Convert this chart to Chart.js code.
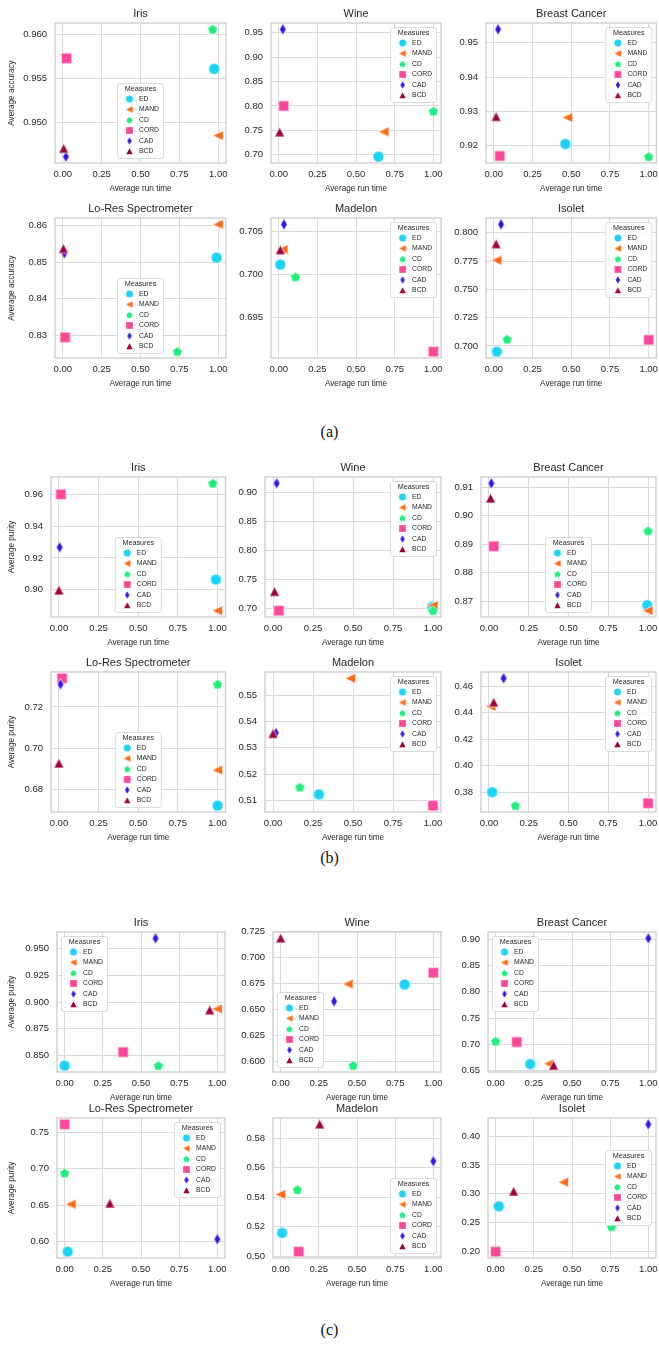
<!DOCTYPE html>
<html>
<head>
<meta charset="utf-8">
<script src="https://cdn.jsdelivr.net/npm/chart.js@4.4.1/dist/chart.umd.min.js"></script>
<style>
  body { margin: 0; background: #fff; }
  #fig { position: relative; width: 659px; height: 1356px; overflow: hidden; }
  #fig canvas { position: absolute; }
  .cap { position: absolute; left: 0; width: 659px; text-align: center; line-height: 20px;
         font-family: "Liberation Serif", "DejaVu Serif", serif; font-size: 16px; color: #111; }
</style>
</head>
<body>
<div id="fig"></div>
<script>
// ---- data ----
const measures = ["ED", "MAND", "CD", "CORD", "CAD", "BCD"];
const panelTitles = ["Iris", "Wine", "Breast Cancer", "Lo-Res Spectrometer", "Madelon", "Isolet"];
const xTicks = [0, 0.25, 0.5, 0.75, 1];

// (a) average accuracy vs average run time, order: ED MAND CD CORD CAD BCD
const aIrisX = [0.974, 1.0, 0.964, 0.024, 0.02, 0.006];
const aIrisY = [0.9561, 0.9485, 0.9606, 0.9573, 0.9461, 0.9470];
const aWineX = [0.645, 0.68, 1.0, 0.032, 0.026, 0.006];
const aWineY = [0.696, 0.747, 0.789, 0.800, 0.957, 0.746];
const aBreastX = [0.462, 0.477, 1.0, 0.039, 0.028, 0.015];
const aBreastY = [0.9205, 0.9282, 0.9168, 0.9170, 0.9539, 0.9284];
const aLoResX = [0.99, 1.0, 0.737, 0.015, 0.01, 0.004];
const aLoResY = [0.8512, 0.8603, 0.8255, 0.8294, 0.8524, 0.8536];
const aMadelonX = [0.01, 0.028, 0.108, 1.0, 0.034, 0.01];
const aMadelonY = [0.70117, 0.70293, 0.69973, 0.69102, 0.70586, 0.70285];
const aIsoletX = [0.02, 0.02, 0.086, 1.0, 0.047, 0.015];
const aIsoletY = [0.6950, 0.7757, 0.7059, 0.7054, 0.8074, 0.7899];

// (b) average purity
const bIrisX = [0.99, 1.0, 0.97, 0.0125, 0.004, 0.0];
const bIrisY = [0.9065, 0.8869, 0.9669, 0.960, 0.9267, 0.8996];
const bWineX = [0.995, 1.0, 1.0, 0.036, 0.023, 0.01];
const bWineY = [0.703, 0.705, 0.6965, 0.6965, 0.915, 0.7288];
const bBreastX = [0.995, 1.0, 1.0, 0.03, 0.015, 0.01];
const bBreastY = [0.8686, 0.8667, 0.8947, 0.8893, 0.9114, 0.9061];
const bLoResX = [1.0, 1.0, 1.0, 0.02, 0.01, 0.0];
const bLoResY = [0.6722, 0.6894, 0.7309, 0.7338, 0.7309, 0.6926];
const bMadelonX = [0.287, 0.485, 0.168, 1.0, 0.018, 0.0];
const bMadelonY = [0.5123, 0.5564, 0.515, 0.508, 0.5356, 0.5353];
const bIsoletX = [0.02, 0.013, 0.166, 1.0, 0.092, 0.03];
const bIsoletY = [0.38, 0.4448, 0.3698, 0.3716, 0.4661, 0.4479];

// (c) average purity
const cIrisX = [0.0, 1.0, 0.614, 0.383, 0.595, 0.95];
const cIrisY = [0.8405, 0.8937, 0.8405, 0.8532, 0.9598, 0.8924];
const cWineX = [0.812, 0.442, 0.475, 1.0, 0.35, 0.0];
const cWineY = [0.674, 0.6744, 0.5958, 0.6854, 0.6578, 0.7185];
const cBreastX = [0.226, 0.35, 0.0, 0.138, 1.0, 0.38];
const cBreastY = [0.6626, 0.663, 0.7057, 0.7044, 0.9013, 0.6595];
const cLoResX = [0.02, 0.042, 0.0, 0.0, 1.0, 0.296];
const cLoResY = [0.5862, 0.6514, 0.694, 0.7611, 0.6032, 0.6523];
const cMadelonX = [0.01, 0.0, 0.11, 0.118, 1.0, 0.256];
const cMadelonY = [0.5159, 0.542, 0.5452, 0.5032, 0.5645, 0.5895];
const cIsoletX = [0.02, 0.444, 0.759, 0.0, 1.0, 0.118];
const cIsoletY = [0.2784, 0.3203, 0.243, 0.20, 0.4203, 0.304];

// y tick labels
const aTicks = [
  ["0.950", "0.955", "0.960"],
  ["0.70", "0.75", "0.80", "0.85", "0.90", "0.95"],
  ["0.92", "0.93", "0.94", "0.95"],
  ["0.83", "0.84", "0.85", "0.86"],
  ["0.695", "0.700", "0.705"],
  ["0.700", "0.725", "0.750", "0.775", "0.800"]
];
const bTicks = [
  ["0.90", "0.92", "0.94", "0.96"],
  ["0.70", "0.75", "0.80", "0.85", "0.90"],
  ["0.87", "0.88", "0.89", "0.90", "0.91"],
  ["0.68", "0.70", "0.72"],
  ["0.51", "0.52", "0.53", "0.54", "0.55"],
  ["0.38", "0.40", "0.42", "0.44", "0.46"]
];
const cTicks = [
  ["0.850", "0.875", "0.900", "0.925", "0.950"],
  ["0.600", "0.625", "0.650", "0.675", "0.700", "0.725"],
  ["0.65", "0.70", "0.75", "0.80", "0.85", "0.90"],
  ["0.60", "0.65", "0.70", "0.75"],
  ["0.50", "0.52", "0.54", "0.56", "0.58"],
  ["0.20", "0.25", "0.30", "0.35", "0.40"]
];

// ---- look & layout ----
const font = '"Liberation Sans", Arial, sans-serif';
const textColor = "#262626";
const gridColor = "#dadada";
const colors = ["#1cd3f5", "#ff6a10", "#1ef07c", "#ff4799", "#3216e8", "#a00040"];
const shapes = ["circle", "triLeft", "pentagon", "square", "thinDiamond", "triUp"];
const sizes = [11, 11, 10.5, 10.5, 11.5, 10.5];

const plotTops = [[23, 218], [477, 672], [932, 1118]];
const plotLefts = [[55, 270.6, 485.6], [51, 265.4, 481], [57, 273, 488]];
const plotRights = [[226, 440.7, 656], [225.5, 441.4, 656], [225, 441, 656]];
const plotH = 140;
const captionY = [432, 858, 1330];
const captions = ["(a)", "(b)", "(c)"];

const groups = [
  { yTitle: "Average accuracy", ticks: aTicks,
    xs: [aIrisX, aWineX, aBreastX, aLoResX, aMadelonX, aIsoletX],
    ys: [aIrisY, aWineY, aBreastY, aLoResY, aMadelonY, aIsoletY],
    locs: ["lower center", "upper right", "upper right", "lower center", "upper right", "upper right"] },
  { yTitle: "Average purity", ticks: bTicks,
    xs: [bIrisX, bWineX, bBreastX, bLoResX, bMadelonX, bIsoletX],
    ys: [bIrisY, bWineY, bBreastY, bLoResY, bMadelonY, bIsoletY],
    locs: ["lower center", "upper right", "lower center", "lower center", "upper right", "upper right"] },
  { yTitle: "Average purity", ticks: cTicks,
    xs: [cIrisX, cWineX, cBreastX, cLoResX, cMadelonX, cIsoletX],
    ys: [cIrisY, cWineY, cBreastY, cLoResY, cMadelonY, cIsoletY],
    locs: ["upper left", "lower left", "upper left", "upper right", "lower right", "center right"] }
];

// ---- markers ----
function markerPath(g, shape, cx, cy, s) {
  const r = s / 2;
  g.beginPath();
  if (shape === "circle") {
    g.arc(cx, cy, r, 0, Math.PI * 2);
  } else if (shape === "square") {
    g.rect(cx - r, cy - r, s, s);
  } else if (shape === "triLeft") {
    g.moveTo(cx - r, cy);
    g.lineTo(cx + r * 0.9, cy - r * 0.9);
    g.lineTo(cx + r * 0.9, cy + r * 0.9);
    g.closePath();
  } else if (shape === "triUp") {
    g.moveTo(cx, cy - r);
    g.lineTo(cx + r * 0.95, cy + r * 0.85);
    g.lineTo(cx - r * 0.95, cy + r * 0.85);
    g.closePath();
  } else if (shape === "pentagon") {
    for (let k = 0; k < 5; k++) {
      const t = -Math.PI / 2 + k * 2 * Math.PI / 5;
      const px = cx + r * 0.98 * Math.cos(t), py = cy + r * 0.98 * Math.sin(t) + 0.4;
      if (k === 0) g.moveTo(px, py); else g.lineTo(px, py);
    }
    g.closePath();
  } else if (shape === "thinDiamond") {
    g.moveTo(cx, cy - r);
    g.lineTo(cx + r * 0.58, cy);
    g.lineTo(cx, cy + r);
    g.lineTo(cx - r * 0.58, cy);
    g.closePath();
  }
}

function makeMarker(shape, color, s, edge) {
  const c = document.createElement("canvas");
  const n = Math.ceil(s + 4);
  c.width = n; c.height = n;
  const g = c.getContext("2d");
  markerPath(g, shape, n / 2, n / 2, s);
  g.fillStyle = color;
  g.fill();
  if (edge) { g.lineWidth = 0.7; g.strokeStyle = "#ffffff"; g.stroke(); }
  return c;
}

const markers = shapes.map((sh, i) => makeMarker(sh, colors[i], sizes[i], true));
const legendMarkers = shapes.map((sh, i) => makeMarker(sh, colors[i], sizes[i] * 0.64, false));

// ---- plugins ----
const frame = {
  id: "frame",
  beforeDatasetsDraw(chart) {
    const { ctx, chartArea: a } = chart;
    ctx.save();
    ctx.strokeStyle = "#cccccc";
    ctx.lineWidth = 1.3;
    ctx.strokeRect(a.left, a.top, a.right - a.left, a.bottom - a.top);
    ctx.restore();
  }
};

const measuresLegend = {
  id: "measuresLegend",
  afterDatasetsDraw(chart, args, opts) {
    const { ctx, chartArea: a } = chart;
    const w = 46, h = 75, pad = 4.5;
    const loc = opts.loc;
    let x = (a.left + a.right - w) / 2;
    let y = (a.top + a.bottom - h) / 2;
    if (loc.includes("left")) x = a.left + pad;
    if (loc.includes("right")) x = a.right - pad - w;
    if (loc.includes("upper")) y = a.top + pad;
    if (loc.includes("lower")) y = a.bottom - pad - h;
    ctx.save();
    ctx.beginPath();
    ctx.roundRect(x, y, w, h, 2.5);
    ctx.fillStyle = "rgba(255,255,255,0.85)";
    ctx.fill();
    ctx.lineWidth = 0.8;
    ctx.strokeStyle = "#d2d2d2";
    ctx.stroke();
    ctx.fillStyle = textColor;
    ctx.textBaseline = "middle";
    ctx.textAlign = "center";
    ctx.font = "7.2px " + font;
    ctx.fillText("Measures", x + w / 2, y + 6);
    ctx.textAlign = "left";
    ctx.font = "6.8px " + font;
    measures.forEach((m, i) => {
      const cy = y + 15.5 + i * 10.5;
      const mk = legendMarkers[i];
      ctx.drawImage(mk, x + 12 - mk.width / 2, cy - mk.height / 2);
      ctx.fillText(m, x + 21.5, cy);
    });
    ctx.restore();
  }
};

function padRange(vals) {
  const lo = Math.min(...vals), hi = Math.max(...vals);
  const m = (hi - lo) * 0.05;
  return [lo - m, hi + m];
}

// ---- build charts ----
const fig = document.getElementById("fig");

captions.forEach((t, g) => {
  const d = document.createElement("div");
  d.className = "cap";
  d.style.top = (captionY[g] - 10) + "px";
  d.textContent = t;
  fig.appendChild(d);
});

groups.forEach((grp, g) => {
  panelTitles.forEach((title, p) => {
    const row = Math.floor(p / 3), col = p % 3;
    const L = plotLefts[g][col], R = plotRights[g][col], T = plotTops[g][row];
    const left = col === 0 ? 0 : L - 46;
    const yW = L - left;
    const top = T - 22;
    const width = Math.ceil(R - left + 14);
    const height = 22 + plotH + 33;
    const padRight = width - (R - left);

    const canvas = document.createElement("canvas");
    canvas.width = width; canvas.height = height;
    canvas.style.left = left + "px";
    canvas.style.top = top + "px";
    canvas.style.width = width + "px";
    canvas.style.height = height + "px";
    fig.appendChild(canvas);

    const xs = grp.xs[p], ys = grp.ys[p];
    const tickLabels = grp.ticks[p];
    const tickVals = tickLabels.map(Number);
    const [yMin, yMax] = padRange(ys);

    new Chart(canvas, {
      type: "scatter",
      data: {
        datasets: measures.map((m, i) => ({
          label: m,
          data: [{ x: xs[i], y: ys[i] }],
          pointStyle: markers[i],
          pointRadius: 5,
          pointHoverRadius: 5,
          order: 6 - i
        }))
      },
      options: {
        responsive: false,
        animation: false,
        events: [],
        layout: { padding: { left: 0, right: padRight, top: 0, bottom: 0 } },
        scales: {
          x: {
            type: "linear", min: -0.05, max: 1.05, bounds: "data",
            afterBuildTicks: s => { s.ticks = xTicks.map(v => ({ value: v })); },
            afterFit: s => { s.height = 33; },
            grid: { color: gridColor, lineWidth: 1, drawTicks: false },
            border: { display: false },
            ticks: { padding: 6, color: textColor, maxRotation: 0, minRotation: 0, autoSkip: false,
                     font: { family: font, size: 9.5 }, callback: v => v.toFixed(2) },
            title: { display: true, text: "Average run time", color: textColor,
                     font: { family: font, size: 8.2 }, padding: { top: 0, bottom: 2.5 } }
          },
          y: {
            type: "linear", min: yMin, max: yMax, bounds: "data",
            afterBuildTicks: s => { s.ticks = tickVals.map(v => ({ value: v })); },
            afterFit: s => { s.width = yW; },
            grid: { color: gridColor, lineWidth: 1, drawTicks: false },
            border: { display: false },
            ticks: { padding: 8, color: textColor, autoSkip: false,
                     font: { family: font, size: 9.5 }, callback: (v, i) => tickLabels[i] },
            title: { display: col === 0, text: grp.yTitle, color: textColor,
                     font: { family: font, size: 8.2 }, padding: { top: 7, bottom: 0 } }
          }
        },
        plugins: {
          legend: { display: false },
          tooltip: { enabled: false },
          title: { display: true, text: title, color: textColor, fullSize: false,
                   font: { family: font, size: 11, weight: "normal" },
                   padding: { top: 6.6, bottom: 2.2 } },
          measuresLegend: { loc: grp.locs[p] }
        }
      },
      plugins: [frame, measuresLegend]
    });
  });
});
</script>
</body>
</html>
